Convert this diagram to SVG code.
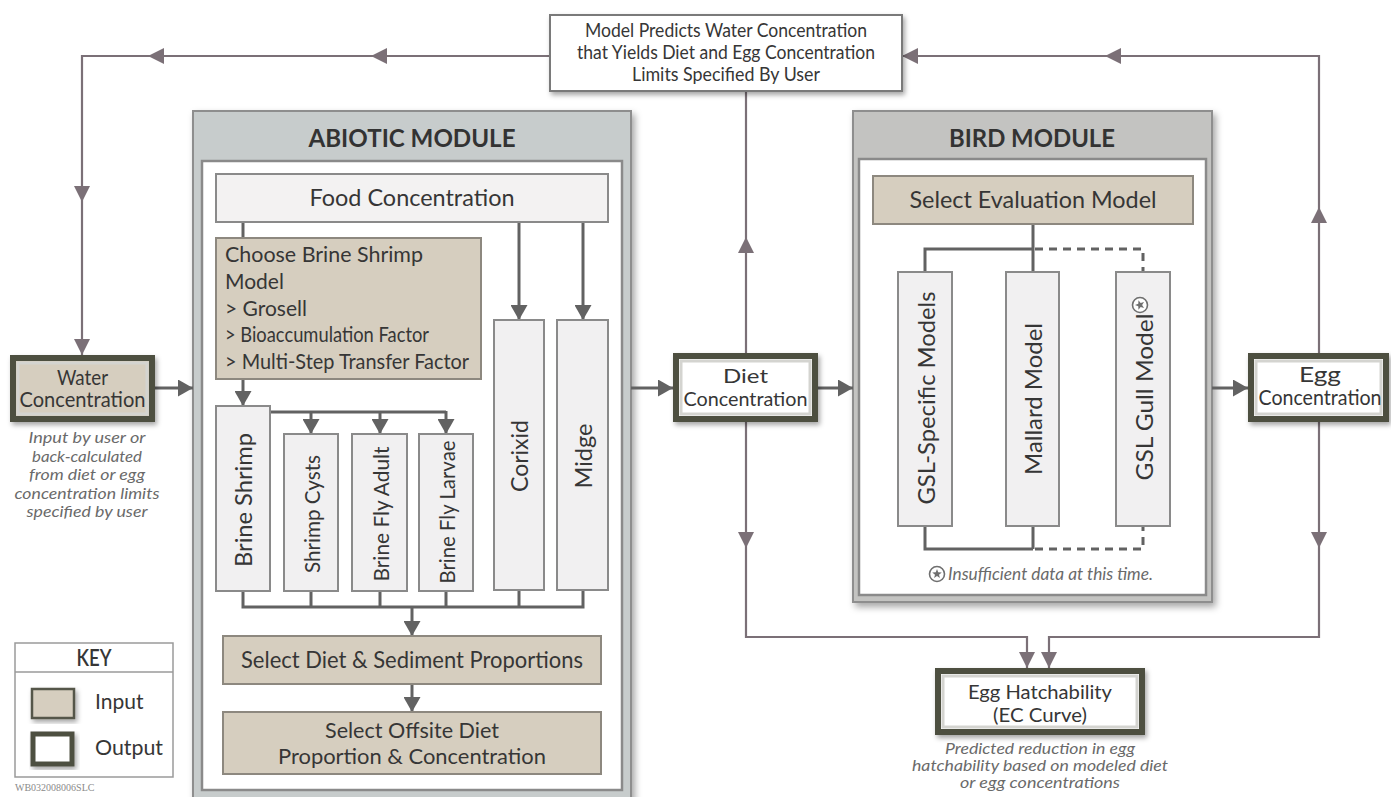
<svg xmlns="http://www.w3.org/2000/svg" width="1391" height="797" viewBox="0 0 1391 797">
<defs>
<style>
.t{font-family:Lato,"Open Sans","Liberation Sans",sans-serif;fill:#363636}
.c{text-anchor:middle}
.b{font-weight:bold;fill:#333}
.it{font-style:italic;fill:#6a6a6a}
.fb{fill:none;stroke:#7b7077;stroke-width:2.2}
.in{fill:none;stroke:#626262;stroke-width:3}
.dash{stroke-dasharray:8 6}
.inp{fill:#d6cebf;stroke:#8d887f;stroke-width:2}
.col{fill:#f1f0f1;stroke:#8a8a8a;stroke-width:2}
.wht{fill:#f3f2f2;stroke:#8a8a8a;stroke-width:2}
.out{stroke:#4e5040;stroke-width:6}
.glow{fill:none;stroke:#d4d4d0;stroke-width:3}
</style>
<filter id="sh" x="-10%" y="-10%" width="130%" height="130%">
<feDropShadow dx="2" dy="3" stdDeviation="2.5" flood-color="#000" flood-opacity="0.35"/>
</filter>
<filter id="shm" x="-5%" y="-5%" width="115%" height="115%">
<feDropShadow dx="3" dy="4" stdDeviation="3.5" flood-color="#000" flood-opacity="0.35"/>
</filter>
<marker id="af" viewBox="0 0 16 16" refX="16" refY="8" markerWidth="16" markerHeight="16" markerUnits="userSpaceOnUse" orient="auto"><path d="M0,0 L16,8 L0,16 z" fill="#7b7077"/></marker>
<marker id="ai" viewBox="0 0 15 17" refX="15" refY="8.5" markerWidth="15" markerHeight="17" markerUnits="userSpaceOnUse" orient="auto"><path d="M0,0 L15,8.5 L0,17 z" fill="#626262"/></marker>
<g id="star"><polygon points="0,-5 1.23,-1.7 4.76,-1.55 2,0.65 2.94,4.05 0,2.1 -2.94,4.05 -2,0.65 -4.76,-1.55 -1.23,-1.7" fill="#6f6f6f"/></g>
</defs>
<rect width="1391" height="797" fill="#ffffff"/>

<!-- Modules (containers) -->
<g id="abiotic-module">
<rect x="193" y="111" width="438" height="692" fill="#c7cccc" stroke="#8e8e8e" stroke-width="2" filter="url(#shm)"/>
<rect x="202" y="161" width="420" height="629" fill="#ffffff" stroke="#8a8a8a" stroke-width="2.5"/>
<text class="t b c" x="412" y="147" font-size="24" textLength="207" lengthAdjust="spacingAndGlyphs">ABIOTIC MODULE</text>
</g>
<g id="bird-module">
<rect x="853" y="111" width="359" height="491" fill="#c3c3c1" stroke="#8e8e8e" stroke-width="2" filter="url(#shm)"/>
<rect x="859" y="159" width="347" height="436" fill="#ffffff" stroke="#8a8a8a" stroke-width="2.5"/>
<text class="t b c" x="1032" y="147" font-size="24" textLength="166" lengthAdjust="spacingAndGlyphs">BIRD MODULE</text>
</g>

<!-- Connectors -->
<g id="connectors">
<path class="fb" d="M550,56 H371" marker-end="url(#af)"/>
<path class="fb" d="M371,56 H148" marker-end="url(#af)"/>
<path class="fb" d="M148,56 H82 V202" marker-end="url(#af)"/>
<path class="fb" d="M82,202 V355" marker-end="url(#af)"/>
<path class="fb" d="M746,353 V237" marker-end="url(#af)"/>
<path class="fb" d="M746,237 V91"/>
<path class="fb" d="M746,422 V548" marker-end="url(#af)"/>
<path class="fb" d="M746,548 V637 H1027 V668" marker-end="url(#af)"/>
<path class="fb" d="M1319,353 V207" marker-end="url(#af)"/>
<path class="fb" d="M1319,207 V56 H1105" marker-end="url(#af)"/>
<path class="fb" d="M1105,56 H902" marker-end="url(#af)"/>
<path class="fb" d="M1319,422 V548" marker-end="url(#af)"/>
<path class="fb" d="M1319,548 V637 H1049 V668" marker-end="url(#af)"/>
<path class="in" d="M155,388 H193" marker-end="url(#ai)"/>
<path class="in" d="M631,388 H673" marker-end="url(#ai)"/>
<path class="in" d="M818,388 H853" marker-end="url(#ai)"/>
<path class="in" d="M1212,388 H1248" marker-end="url(#ai)"/>
<path class="in" d="M243,222 V238"/>
<path class="in" d="M243,379 V406" marker-end="url(#ai)"/>
<path class="in" d="M519,222 V320" marker-end="url(#ai)"/>
<path class="in" d="M583,222 V320" marker-end="url(#ai)"/>
<path class="in" d="M270,412 H446"/>
<path class="in" d="M311,412 V434" marker-end="url(#ai)"/>
<path class="in" d="M380,412 V434" marker-end="url(#ai)"/>
<path class="in" d="M446,411 V434" marker-end="url(#ai)"/>
<path class="in" d="M243,591 V607 H583 V590"/>
<path class="in" d="M311,591 V607 M380,591 V607 M446,591 V607 M519,590 V607"/>
<path class="in" d="M412,607 V636" marker-end="url(#ai)"/>
<path class="in" d="M412,684 V712" marker-end="url(#ai)"/>
<path class="in" d="M1033,224 V272 M1033,249 H925 V272"/>
<path class="in dash" d="M1035,249 H1143 V272"/>
<path class="in" d="M925,526 V549 H1033 M1033,526 V549"/>
<path class="in dash" d="M1035,549 H1143 V526"/>
</g>

<!-- Top prediction box -->
<g id="node-prediction">
<rect x="550" y="15" width="352" height="76" fill="#ffffff" stroke="#7a7a7a" stroke-width="2" filter="url(#sh)"/>
<text class="t c" x="726" y="37" font-size="18.5" textLength="282" lengthAdjust="spacingAndGlyphs">Model Predicts Water Concentration</text>
<text class="t c" x="726" y="59" font-size="18.5" textLength="298" lengthAdjust="spacingAndGlyphs">that Yields Diet and Egg Concentration</text>
<text class="t c" x="726" y="81" font-size="18.5" textLength="188" lengthAdjust="spacingAndGlyphs">Limits Specified By User</text>
</g>

<!-- Water concentration -->
<g id="node-water">
<rect x="13" y="358" width="139" height="61" fill="#d6cebf" class="out" filter="url(#sh)"/>
<rect x="18" y="363" width="129" height="51" class="glow" stroke="#bdb6a8"/>
<text class="t c" x="82.5" y="385" font-size="20.5" textLength="51" lengthAdjust="spacingAndGlyphs">Water</text>
<text class="t c" x="82.5" y="407" font-size="20.5" textLength="126" lengthAdjust="spacingAndGlyphs">Concentration</text>
<text class="t it c" x="87" y="443" font-size="15.5" textLength="117" lengthAdjust="spacingAndGlyphs">Input by user or</text>
<text class="t it c" x="87" y="461.5" font-size="15.5" textLength="110" lengthAdjust="spacingAndGlyphs">back-calculated</text>
<text class="t it c" x="87" y="480" font-size="15.5" textLength="116" lengthAdjust="spacingAndGlyphs">from diet or egg</text>
<text class="t it c" x="87" y="498.5" font-size="15.5" textLength="145" lengthAdjust="spacingAndGlyphs">concentration limits</text>
<text class="t it c" x="87" y="517" font-size="15.5" textLength="121" lengthAdjust="spacingAndGlyphs">specified by user</text>
</g>

<!-- Abiotic nodes -->
<g id="node-food">
<rect x="216" y="174" width="392" height="48" class="wht"/>
<text class="t c" x="412" y="206" font-size="23" textLength="205" lengthAdjust="spacingAndGlyphs">Food Concentration</text>
</g>
<g id="node-choose-brine">
<rect x="216" y="238" width="265" height="141" class="inp"/>
<text class="t" x="225" y="262" font-size="21" textLength="198" lengthAdjust="spacingAndGlyphs">Choose Brine Shrimp</text>
<text class="t" x="225" y="289" font-size="21">Model</text>
<text class="t" x="225" y="316" font-size="21">&gt; Grosell</text>
<text class="t" x="225" y="342" font-size="21" textLength="204" lengthAdjust="spacingAndGlyphs">&gt; Bioaccumulation Factor</text>
<text class="t" x="225" y="369" font-size="21" textLength="244" lengthAdjust="spacingAndGlyphs">&gt; Multi-Step Transfer Factor</text>
</g>
<g id="node-brine-shrimp">
<rect x="216" y="406" width="54" height="185" class="col"/>
<text class="t c" transform="translate(243,500) rotate(-90)" dominant-baseline="central" font-size="23" textLength="134" lengthAdjust="spacingAndGlyphs">Brine Shrimp</text>
</g>
<g id="node-shrimp-cysts">
<rect x="284" y="434" width="54" height="157" class="col"/>
<text class="t c" transform="translate(311,514) rotate(-90)" dominant-baseline="central" font-size="22" textLength="118" lengthAdjust="spacingAndGlyphs">Shrimp Cysts</text>
</g>
<g id="node-brine-fly-adult">
<rect x="352" y="434" width="55" height="157" class="col"/>
<text class="t c" transform="translate(380,514) rotate(-90)" dominant-baseline="central" font-size="22" textLength="135" lengthAdjust="spacingAndGlyphs">Brine Fly Adult</text>
</g>
<g id="node-brine-fly-larvae">
<rect x="419" y="434" width="54" height="157" class="col"/>
<text class="t c" transform="translate(446,512) rotate(-90)" dominant-baseline="central" font-size="22" textLength="143" lengthAdjust="spacingAndGlyphs">Brine Fly Larvae</text>
</g>
<g id="node-corixid">
<rect x="494" y="320" width="50" height="270" class="col"/>
<text class="t c" transform="translate(519,456) rotate(-90)" dominant-baseline="central" font-size="23" textLength="72" lengthAdjust="spacingAndGlyphs">Corixid</text>
</g>
<g id="node-midge">
<rect x="557" y="320" width="51" height="270" class="col"/>
<text class="t c" transform="translate(583,456) rotate(-90)" dominant-baseline="central" font-size="23" textLength="65" lengthAdjust="spacingAndGlyphs">Midge</text>
</g>
<g id="node-select-diet">
<rect x="223" y="636" width="378" height="48" class="inp"/>
<text class="t c" x="412" y="668" font-size="23" textLength="342" lengthAdjust="spacingAndGlyphs">Select Diet &amp; Sediment Proportions</text>
</g>
<g id="node-select-offsite">
<rect x="223" y="712" width="378" height="62" class="inp"/>
<text class="t c" x="412" y="738" font-size="22" textLength="174" lengthAdjust="spacingAndGlyphs">Select Offsite Diet</text>
<text class="t c" x="412" y="764" font-size="22" textLength="268" lengthAdjust="spacingAndGlyphs">Proportion &amp; Concentration</text>
</g>

<!-- Diet concentration -->
<g id="node-diet">
<rect x="676" y="356" width="139" height="63" fill="#ffffff" class="out" filter="url(#sh)"/>
<rect x="681" y="361" width="129" height="53" class="glow"/>
<text class="t c" x="745.5" y="383" font-size="20" textLength="45" lengthAdjust="spacingAndGlyphs">Diet</text>
<text class="t c" x="745.5" y="406" font-size="20" textLength="124" lengthAdjust="spacingAndGlyphs">Concentration</text>
</g>

<!-- Bird nodes -->
<g id="node-select-eval">
<rect x="873" y="176" width="320" height="48" class="inp"/>
<text class="t c" x="1033" y="208" font-size="24" textLength="247" lengthAdjust="spacingAndGlyphs">Select Evaluation Model</text>
</g>
<g id="node-gsl-specific">
<rect x="898" y="272" width="54" height="254" class="col"/>
<text class="t c" transform="translate(925,398) rotate(-90)" dominant-baseline="central" font-size="24" textLength="213" lengthAdjust="spacingAndGlyphs">GSL-Specific Models</text>
</g>
<g id="node-mallard">
<rect x="1006" y="272" width="53" height="254" class="col"/>
<text class="t c" transform="translate(1032.5,399) rotate(-90)" dominant-baseline="central" font-size="24" textLength="152" lengthAdjust="spacingAndGlyphs">Mallard Model</text>
</g>
<g id="node-gull">
<rect x="1116" y="272" width="54" height="254" class="col"/>
<text class="t c" transform="translate(1143,397) rotate(-90)" dominant-baseline="central" font-size="24" textLength="167" lengthAdjust="spacingAndGlyphs">GSL Gull Model</text>
<circle cx="1140" cy="305" r="7.5" fill="#ffffff" stroke="#6f6f6f" stroke-width="1.6"/>
<use href="#star" transform="translate(1140,305) rotate(-90)"/>
</g>
<g id="note-insufficient">
<circle cx="937" cy="574" r="7.5" fill="#ffffff" stroke="#6f6f6f" stroke-width="1.6"/>
<use href="#star" transform="translate(937,574)"/>
<text class="t it" x="948" y="580" font-size="17" textLength="205" lengthAdjust="spacingAndGlyphs">Insufficient data at this time.</text>
</g>

<!-- Egg concentration -->
<g id="node-egg">
<rect x="1251" y="356" width="135" height="63" fill="#ffffff" class="out" filter="url(#sh)"/>
<rect x="1256" y="361" width="125" height="53" class="glow"/>
<text class="t c" x="1320" y="382" font-size="20.5" textLength="42" lengthAdjust="spacingAndGlyphs">Egg</text>
<text class="t c" x="1320" y="405" font-size="20.5" textLength="123" lengthAdjust="spacingAndGlyphs">Concentration</text>
</g>

<!-- Egg hatchability -->
<g id="node-hatchability">
<rect x="938" y="671" width="204" height="61" fill="#ffffff" class="out" filter="url(#sh)"/>
<rect x="943" y="676" width="194" height="51" class="glow"/>
<text class="t c" x="1040" y="699" font-size="18.5" textLength="144" lengthAdjust="spacingAndGlyphs">Egg Hatchability</text>
<text class="t c" x="1040" y="722" font-size="18.5" textLength="94" lengthAdjust="spacingAndGlyphs">(EC Curve)</text>
<text class="t it c" x="1040" y="754" font-size="14.5" textLength="190" lengthAdjust="spacingAndGlyphs">Predicted reduction in egg</text>
<text class="t it c" x="1040" y="771" font-size="14.5" textLength="256" lengthAdjust="spacingAndGlyphs">hatchability based on modeled diet</text>
<text class="t it c" x="1040" y="788" font-size="14.5" textLength="160" lengthAdjust="spacingAndGlyphs">or egg concentrations</text>
</g>

<!-- Key -->
<g id="key">
<rect x="15" y="643" width="158" height="134" fill="#ffffff" stroke="#9a9a9a" stroke-width="1.5"/>
<line x1="15" y1="672" x2="173" y2="672" stroke="#9a9a9a" stroke-width="1.5"/>
<text class="t c" x="94" y="666" font-size="22" font-weight="600" textLength="35" lengthAdjust="spacingAndGlyphs">KEY</text>
<rect x="32" y="689" width="42" height="29" fill="#d6cebf" stroke="#55574a" stroke-width="2.5" filter="url(#sh)"/>
<text class="t" x="95" y="709" font-size="21">Input</text>
<rect x="33" y="734" width="39" height="30" fill="#ffffff" stroke="#4e5040" stroke-width="5" filter="url(#sh)"/>
<text class="t" x="95" y="755" font-size="21" textLength="68" lengthAdjust="spacingAndGlyphs">Output</text>
<text x="15" y="791" font-family="'Liberation Serif',serif" font-size="10" fill="#8a8a8a">WB032008006SLC</text>
</g>
</svg>
